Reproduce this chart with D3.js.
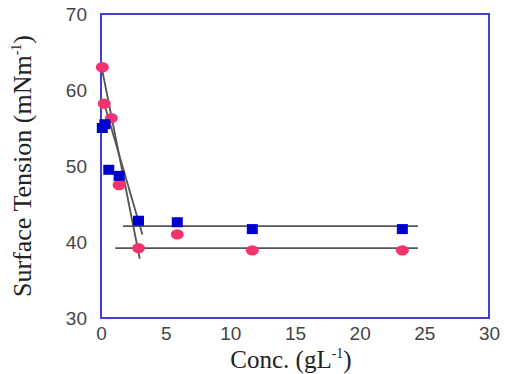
<!DOCTYPE html>
<html><head><meta charset="utf-8">
<script src="https://cdn.jsdelivr.net/npm/d3@7"></script>
<style>body{margin:0;background:#fff}</style>
</head><body>
<svg id="c" width="505" height="374"></svg>
<script>
const xTicks = [0, 5, 10, 15, 20, 25, 30];
const yTicks = [30, 40, 50, 60, 70];
const blueX = [0.1, 0.3, 0.6, 1.4, 2.9, 5.9, 11.7, 23.3];
const blueY = [55.0, 55.5, 49.5, 48.7, 42.8, 42.6, 41.7, 41.7];
const pinkX = [0.1, 0.25, 0.8, 1.4, 2.9, 5.9, 11.7, 23.3];
const pinkY = [63.0, 58.2, 56.3, 47.5, 39.2, 41.0, 38.9, 38.9];
const fitLine1 = [[0.05, 63.0], [3.0, 37.8]];
const fitLine2 = [[0.2, 58.5], [3.2, 41.0]];
const plateau1 = [[1.7, 42.1], [24.5, 42.1]];
const plateau2 = [[1.1, 39.2], [24.5, 39.2]];

const svg = d3.select("#c");
const m = {l: 101, r: 489, t: 14, b: 318};
const x = d3.scaleLinear().domain([0, 30]).range([m.l, m.r]);
const y = d3.scaleLinear().domain([30, 70]).range([m.b, m.t]);

// frame
svg.append("rect").attr("x", m.l).attr("y", m.t).attr("width", m.r - m.l).attr("height", m.b - m.t)
  .attr("fill", "none").attr("stroke", "#4040cc").attr("stroke-width", 2);

// tick labels via axes (no tick lines)
const xa = svg.append("g").attr("transform", `translate(0,${m.b})`)
  .call(d3.axisBottom(x).tickValues(xTicks).tickSize(0).tickPadding(9));
const ya = svg.append("g").attr("transform", `translate(${m.l},0)`)
  .call(d3.axisLeft(y).tickValues(yTicks).tickSize(0).tickPadding(14));
[xa, ya].forEach(g => {
  g.select(".domain").remove();
  g.selectAll("text").attr("font-family", "Liberation Sans, Arial, sans-serif")
    .attr("font-size", 19).attr("fill", "#444");
});

const line = d3.line().x(d => x(d[0])).y(d => y(d[1]));
[plateau1, plateau2, fitLine1, fitLine2].forEach(p => {
  svg.append("path").attr("d", line(p)).attr("fill", "none")
    .attr("stroke", "#555").attr("stroke-width", 1.8);
});

// pink circles
svg.append("g").selectAll("ellipse").data(pinkX.map((v, i) => [v, pinkY[i]])).join("ellipse")
  .attr("cx", d => x(d[0])).attr("cy", d => y(d[1])).attr("rx", 6.5).attr("ry", 5.2)
  .attr("fill", "#f2336e");
// blue squares
svg.append("g").selectAll("rect").data(blueX.map((v, i) => [v, blueY[i]])).join("rect")
  .attr("x", d => x(d[0]) - 5.5).attr("y", d => y(d[1]) - 5).attr("width", 11).attr("height", 10)
  .attr("fill", "#0000cc");

// axis titles
const tx = svg.append("text").attr("x", 291).attr("y", 368).attr("text-anchor", "middle")
  .attr("font-family", "Liberation Serif, Times New Roman, serif").attr("font-size", 25).attr("fill", "#222");
tx.append("tspan").text("Conc. (gL");
tx.append("tspan").attr("dy", -10).attr("font-size", 14).text("-1");
tx.append("tspan").attr("dy", 10).text(")");

const ty = svg.append("text").attr("transform", "translate(31,166) rotate(-90)").attr("text-anchor", "middle")
  .attr("font-family", "Liberation Serif, Times New Roman, serif").attr("font-size", 26).attr("fill", "#222");
ty.append("tspan").text("Surface Tension (mNm");
ty.append("tspan").attr("dy", -10).attr("font-size", 14).text("-1");
ty.append("tspan").attr("dy", 10).text(")");
</script>
</body></html>
